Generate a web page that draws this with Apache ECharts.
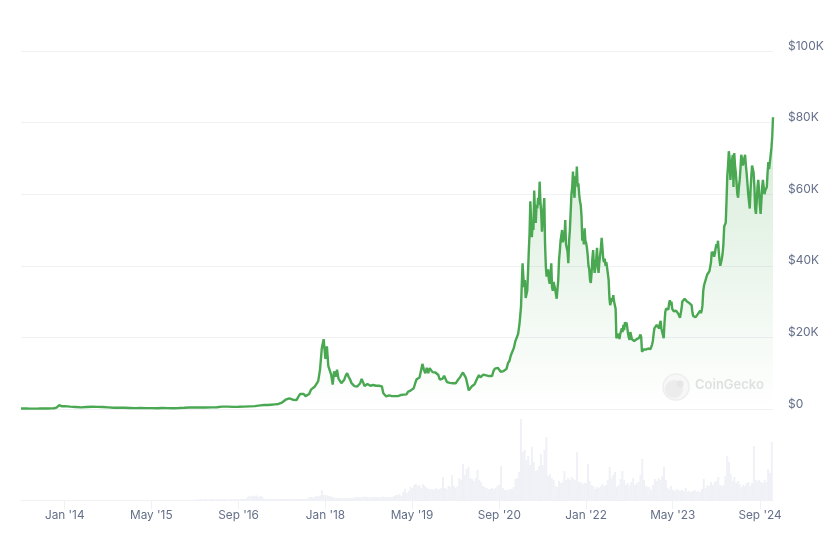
<!DOCTYPE html>
<html>
<head>
<meta charset="utf-8">
<title>Bitcoin price chart</title>
<script src="https://cdn.jsdelivr.net/npm/echarts@6/dist/echarts.min.js"></script>
<style>
  html, body { margin: 0; padding: 0; background: #fff; }
  #chart { width: 837px; height: 541px; }
</style>
</head>
<body>
<div id="chart"></div>
<script>
// prices in $K, evenly spaced inside each period
const prices2013 = [0.12,0.12,0.12,0.11,0.1,0.1,0.1,0.12,0.12,0.13,0.13,0.17,0.2,0.4,1.1,0.75];
const prices2014 = [0.8,0.65,0.55,0.45,0.55,0.62,0.6,0.55,0.45,0.35,0.38,0.35];
const prices2015 = [0.3,0.24,0.27,0.24,0.24,0.23,0.28,0.25,0.23,0.28,0.35,0.43];
const prices2016 = [0.42,0.41,0.41,0.44,0.5,0.67,0.65,0.58,0.61,0.65,0.73,0.8];
const prices2017 = [1.0,1.0,1.1,1.0,1.1,1.1,1.2,1.2,1.3,1.4,1.4,1.5,1.8,2.2,2.6,2.9,3.0,2.7,2.6,2.3,2.5,3.4,4.2,4.5,4.2,3.6,3.5,4.2,5.4,5.6,6.2,6.5,7.8,11,17,19.5];
const prices2018 = [14,17.5,12,11.5,9.5,6.8,10.5,9,11,8.5,8.2,7.2,7,8.2,9.3,10,9,8.3,7.2,7.2,6.4,6.2,6.3,6.2,7.2,8.4,7.5,6.4,6.3,7,7.3,6.5,6.6,6.7,6.6,6.5,6.5,6.5,6.4,6.3,4.4,3.9,3.5,3.4,3.8];
const prices2019 = [3.8,3.6,3.7,3.6,3.7,3.6,3.7,3.9,3.9,4.0,4.1,4.1,4.8,5.2,5.2,5.7,5.8,7.2,8.3,8.2,8.8,9.3,12.6,11,10,11.5,10,11.4,11.6,10.3,10.5,10.2,10.2,9.5,8.2,8.2,8.5,9.3,9.2,7.5,7.5,7.3,7.5,7.2,7.2];
const prices2020 = [7.2,7.8,8.2,8.9,9.3,10.2,9.7,8.7,8.6,5.2,5.6,6.3,6.6,6.9,7.2,8.7,9.5,8.8,8.9,9.6,9.6,9.4,9.6,9.2,9.1,9.2,10.6,11.3,11.6,11.5,11.7,10.4,10.2,10.6,10.8,11.2,12.8,13.4,15,16,17,18.8,18.6,21,24];
const prices2021 = [28.6,35,40.7,37,34,36,31,30.5,33,38,44,49,58,53,48,52,50,61,55,52,57,56,59,57,63.5,58,55,49.5,53,56,58.9,46,39.8,37,37.5,39,36,35,37,40.7,34,33,35.5,36,33.5,33,30.8,30.5,36,41.6,44,47,47,50,46.5,49.5,47,52.8,46,45,44,40.7,47,50,55,60,62,66.3,61,59,65,63,67.7,62,63,60,58,57,54,47,49,46,50.5,47];
const prices2022 = [46.4,45,43,40,39,36,35.2,38,42,44.4,40,38,38.5,42,45,40,38,41,43,45,47.8,45,42,41,42,40,41,39.5,39,36,31,29,30,31,30,31.8,30,29,28,19.8,19.3,19.5,21,19.5,21,20.5,22.5,21.5,23.5,22,24.3,23,24.2,22.8,21,20,19.3,21.5,22,19.5,19,20,19,19.3,18.8,19.5,19.2,19,19.8,20,20.8,20,16,15.8,16.6,16.4,16.7,16.6,17,16.8,16.9,17,16.8,16.7];
const prices2023 = [16.7,18,19,21,22.5,23,22.5,23.5,23,23.5,22.5,23.8,24.6,22.5,23,22,19.8,24,27,28,27.5,28.3,27.8,29.5,30.4,29,30,28,28,27.3,27.5,26.8,27.5,28,27,26.5,26.2,25.5,25.2,28,30,30,30.3,30.8,31,31.3,30,29.8,29.5,29.6,29.3,29.2,29,27,26,26.3,25.8,25.6,25.3,25.5,26.5,26.8,27,27.5,26.8,27.5,29,33,34.5,34.8,36,36.5,37.5,37,37,38.5,38,41,44,43,44,42.5,43.5,45];
const prices2024 = [46,45,47,44,41.5,40,41,42,43.5,46,51,51.5,52,58,65,68,72,70,64,67,69,71,62,71.5,68,66,63,60,59,62,64,67,71,70,68,68,70,71,68,65.8,63,60,58,56,61,65,68,68,66,62,56,54.5,58,62,64,61,57,54.5,58,62,64,62,60,61,60.5,62,66,69,67,69,71,73,76];
const lastDate = '2024-11-13';
const lastPrice = 81.5;

// traded volume in $B, same idea
const volume2016 = [1,1,1,2,1,1,2,1,1,2,2,1,2,1,2,1,2,2,1,1,2,1,2,2,1,2,2,2,2,6,8,7,9,8,9,6];
const volume2017 = [8,7,3,2,2,2,2,2,2,2,2,2,2,2,2,2,2,2,2,2,2,2,2,2,2,2,3,5,6,5,6,8,7,9,20,10];
const volume2018 = [10,9,8,7,6,4,4,4,4,3,4,4,4,3,4,4,5,6,6,5,6,6,7,6,5,6,5,6,6,5,6,6,7,6,5,6];
const volume2019 = [6,6,8,10,10,12,8,16,22,14,18,26,24,30,32,28,30,24,32,28,24,22,22,22,20,24,22,22,24,46,24,22,28,26,50,28];
const volume2020 = [24,28,44,40,72,50,62,66,44,42,38,44,60,40,36,28,26,24,22,22,24,22,24,28,30,68,24,20,20,20,22,22,26,42,44,56];
const volume2021 = [162,96,100,80,88,70,106,76,58,60,68,92,70,100,126,48,52,44,40,28,26,38,34,36,58,40,44,40,46,42,40,96,36,36,32,34];
const volume2022 = [34,72,38,30,28,22,26,24,28,32,28,30,40,66,44,50,56,26,30,42,58,40,30,34,28,36,44,30,34,36,50,82,40,28,26,26];
const volume2023 = [20,30,42,38,44,40,48,66,40,24,22,28,20,18,22,20,18,20,18,24,16,18,16,18,20,16,18,16,22,42,24,30,28,36,30,36];
const volume2024 = [38,46,30,28,30,48,88,76,52,38,46,34,38,32,26,30,28,34,36,28,34,108,40,38,40,36,34,40,36,62,54,116];

const tickDates = ['2014-01-01','2015-05-01','2016-09-01','2018-01-01','2019-05-01','2020-09-01','2022-01-01','2023-05-01','2024-09-01'];
const tickLabels = ["Jan '14","May '15","Sep '16","Jan '18","May '19","Sep '20","Jan '22","May '23","Sep '24"];

const DAY = 86400000;
const FONT = 'Inter, "Noto Sans", sans-serif';
const TEXT_COLOR = '#646f89';
const GRID_COLOR = '#eff1f5';

const toTime = d => new Date(d + 'T00:00:00Z').getTime();

// spreads one period's values evenly from its start date
function spread(start, spanDays, values) {
  const step = spanDays / values.length;
  return values.map((v, i) => [toTime(start) + i * step * DAY, v]);
}

const priceData = [
  ...spread('2013-05-01', 245, prices2013),
  ...spread('2014-01-01', 365, prices2014),
  ...spread('2015-01-01', 365, prices2015),
  ...spread('2016-01-01', 366, prices2016),
  ...spread('2017-01-01', 365, prices2017),
  ...spread('2018-01-01', 365, prices2018),
  ...spread('2019-01-01', 365, prices2019),
  ...spread('2020-01-01', 366, prices2020),
  ...spread('2021-01-01', 365, prices2021),
  ...spread('2022-01-01', 365, prices2022),
  ...spread('2023-01-01', 365, prices2023),
  ...spread('2024-01-01', 317, prices2024),
  [toTime(lastDate), lastPrice]
];

const volumeData = [
  ...spread('2016-01-01', 366, volume2016),
  ...spread('2017-01-01', 365, volume2017),
  ...spread('2018-01-01', 365, volume2018),
  ...spread('2019-01-01', 365, volume2019),
  ...spread('2020-01-01', 366, volume2020),
  ...spread('2021-01-01', 365, volume2021),
  ...spread('2022-01-01', 365, volume2022),
  ...spread('2023-01-01', 365, volume2023),
  ...spread('2024-01-01', 320, volume2024)
];

const xMin = toTime('2013-05-01');
const xMax = toTime(lastDate);
const tickValues = tickDates.map(toTime);

const chart = echarts.init(document.getElementById('chart'));

chart.setOption({
  animation: false,
  backgroundColor: '#fff',
  grid: [
    { left: 21, right: 64, top: 51, bottom: 132 },
    { left: 21, right: 64, top: 410, bottom: 41 }
  ],
  xAxis: [
    { type: 'value', gridIndex: 0, min: xMin, max: xMax, show: false },
    {
      type: 'value',
      gridIndex: 1,
      min: xMin,
      max: xMax,
      axisLine: { show: true, onZero: false, lineStyle: { color: GRID_COLOR, width: 1 } },
      axisTick: { show: true, length: 9, customValues: tickValues, lineStyle: { color: GRID_COLOR } },
      splitLine: { show: false },
      axisLabel: {
        show: true,
        customValues: tickValues,
        hideOverlap: false,
        color: TEXT_COLOR,
        fontFamily: FONT,
        fontSize: 11.8,
        margin: 9,
        formatter: value => tickLabels[tickValues.indexOf(+value)] || ''
      }
    }
  ],
  yAxis: [
    {
      type: 'value',
      gridIndex: 0,
      position: 'right',
      min: 0,
      max: 100,
      interval: 20,
      axisLine: { show: false },
      axisTick: { show: false },
      splitLine: { show: true, lineStyle: { color: GRID_COLOR, width: 1 } },
      axisLabel: {
        color: TEXT_COLOR,
        fontFamily: FONT,
        fontSize: 12,
        margin: 15,
        verticalAlign: 'bottom',
        lineHeight: 10,
        formatter: v => (v === 0 ? '$0' : '$' + v + 'K')
      }
    },
    { type: 'value', gridIndex: 1, min: 0, max: 180, show: false }
  ],
  series: [
    {
      name: 'Volume',
      type: 'bar',
      xAxisIndex: 1,
      yAxisIndex: 1,
      data: volumeData,
      barWidth: 2,
      itemStyle: { color: '#f0f1f6' },
      silent: true
    },
    {
      name: 'Price',
      type: 'line',
      xAxisIndex: 0,
      yAxisIndex: 0,
      data: priceData,
      showSymbol: false,
      smooth: false,
      lineStyle: { color: '#4aa852', width: 2.4 },
      areaStyle: {
        color: new echarts.graphic.LinearGradient(0, 0, 0, 1, [
          { offset: 0, color: 'rgba(74,168,82,0.32)' },
          { offset: 1, color: 'rgba(74,168,82,0)' }
        ])
      },
      silent: true
    }
  ],
  // CoinGecko watermark
  graphic: [
    { type: 'circle', shape: { cx: 676, cy: 387, r: 13 }, style: { fill: '#f7f7f7', stroke: '#eeeeee', lineWidth: 1.5 }, z: 10 },
    { type: 'circle', shape: { cx: 674, cy: 389, r: 9 }, style: { fill: '#ececec' }, z: 11 },
    { type: 'circle', shape: { cx: 680, cy: 384, r: 3.5 }, style: { fill: '#e6e6e6' }, z: 12 },
    {
      type: 'text',
      left: 695,
      top: 379,
      z: 10,
      style: { text: 'CoinGecko', fill: '#e0e0e0', font: '600 13px Inter, sans-serif' }
    }
  ]
});
</script>
</body>
</html>
